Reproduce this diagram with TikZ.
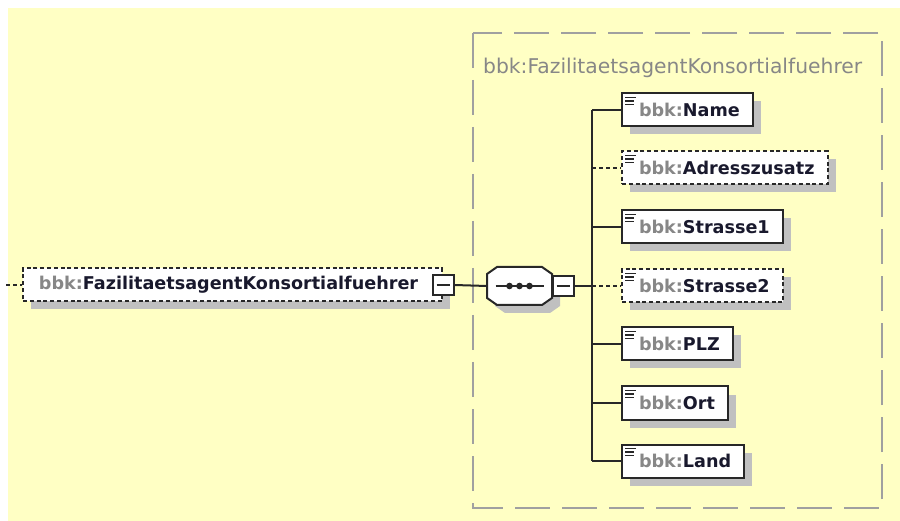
\documentclass[tikz,border=0pt]{standalone}
\usepackage{fontspec}
\setmainfont{DejaVu Sans}
\usetikzlibrary{shadows}
\definecolor{bg}{RGB}{255,255,196}
\definecolor{pre}{RGB}{135,135,135}
\definecolor{nm}{RGB}{25,25,45}
\definecolor{shd}{RGB}{192,192,192}
\definecolor{ln}{RGB}{40,40,40}
\definecolor{cont}{RGB}{160,160,160}
\newcommand{\bbkel}[1]{{\color{pre}bbk:}{\color{nm}#1}}
\tikzset{
  elbox/.style={draw=ln, line width=2pt, fill=white, minimum height=33pt,
    inner ysep=0pt, inner xsep=0pt, anchor=west,
    font=\fontsize{17.6}{20}\bfseries\selectfont,
    drop shadow={shadow xshift=8pt, shadow yshift=-8pt, opacity=1, fill=shd},
    path picture={
      \draw[line width=1.2pt, ln, solid] ([shift={(3pt,-4pt)}]path picture bounding box.north west) -- ++(11pt,0pt);
      \draw[line width=1.2pt, ln, solid] ([shift={(3pt,-7.5pt)}]path picture bounding box.north west) -- ++(9pt,0pt);
      \draw[line width=1.2pt, ln, solid] ([shift={(3pt,-11pt)}]path picture bounding box.north west) -- ++(9pt,0pt);
    }},
  optbox/.style={elbox, dash pattern=on 4pt off 2.8pt},
  minusbox/.style={draw=ln, line width=2pt, fill=white, minimum width=21pt,
    minimum height=20pt, inner sep=0pt,
    path picture={\draw[line width=1.4pt, ln] ([xshift=4pt]path picture bounding box.west) -- ([xshift=-4pt]path picture bounding box.east);}},
  conn/.style={draw=ln, line width=2pt},
  optconn/.style={conn, dash pattern=on 4pt off 3pt},
}
\begin{document}
\begin{tikzpicture}[x=1pt, y=-1pt]
\useasboundingbox (0,0) rectangle (900,521);
\fill[bg] (8,8) rectangle (900,521);
% container
\draw[cont, line width=2pt, dash pattern=on 35pt off 12pt] (473,33) rectangle (882,508);
\node[anchor=west, inner sep=0pt, text=pre, font=\fontsize{20.3}{23}\selectfont] (title) at (483,68) {bbk:FazilitaetsagentKonsortialfuehrer};
% root element
\node[optbox, path picture={}] (root) at (22,285) {\hspace*{16pt}\bbkel{FazilitaetsagentKonsortialfuehrer}\hspace*{24pt}};
\node[minusbox] (m1) at (root.east) {};
\coordinate (in) at (6,285);
\draw[optconn] (in) -- (root.west);
% sequence compositor
\node[minimum width=65pt, minimum height=38pt, inner sep=0pt] (seq) at (519.5,286) {};
\fill[shd] ([shift={(8,8)}]seq.center) +(-22.5,-19) -- +(22.5,-19) -- +(32.5,-12) -- +(32.5,12) -- +(22.5,19) -- +(-22.5,19) -- +(-32.5,12) -- +(-32.5,-12) -- cycle;
\draw[ln, line width=2pt, fill=white] (seq.center) +(-22.5,-19) -- +(22.5,-19) -- +(32.5,-12) -- +(32.5,12) -- +(22.5,19) -- +(-22.5,19) -- +(-32.5,12) -- +(-32.5,-12) -- cycle;
\draw[conn] ([xshift=-24pt]seq.center) -- ([xshift=24pt]seq.center);
\foreach \dx in {-10,0,10} \fill[ln] ([xshift=\dx pt]seq.center) circle (3.3pt);
\node[minusbox] (m2) at (563,286) {};
\draw[conn] (m1.east) -- (seq.west);
% children
\node[elbox] (c1) at (621,110) {\hspace*{17pt}\bbkel{Name}\hspace*{13pt}};
\node[optbox] (c2) at (621,168) {\hspace*{17pt}\bbkel{Adresszusatz}\hspace*{13pt}};
\node[elbox] (c3) at (621,227) {\hspace*{17pt}\bbkel{Strasse1}\hspace*{13pt}};
\node[optbox] (c4) at (621,286) {\hspace*{17pt}\bbkel{Strasse2}\hspace*{13pt}};
\node[elbox] (c5) at (621,344) {\hspace*{17pt}\bbkel{PLZ}\hspace*{13pt}};
\node[elbox] (c6) at (621,403) {\hspace*{17pt}\bbkel{Ort}\hspace*{13pt}};
\node[elbox] (c7) at (621,461) {\hspace*{17pt}\bbkel{Land}\hspace*{13pt}};
\coordinate (bus) at (592,286);
\draw[conn] (m2.east) -- (bus);
\draw[conn] (bus |- c1.west) -- (bus |- c7.west);
\foreach \c in {c1,c3,c5,c6,c7} \draw[conn] (bus |- \c.west) -- (\c.west);
\foreach \c in {c2,c4} \draw[optconn] (bus |- \c.west) -- (\c.west);
\end{tikzpicture}
\end{document}
